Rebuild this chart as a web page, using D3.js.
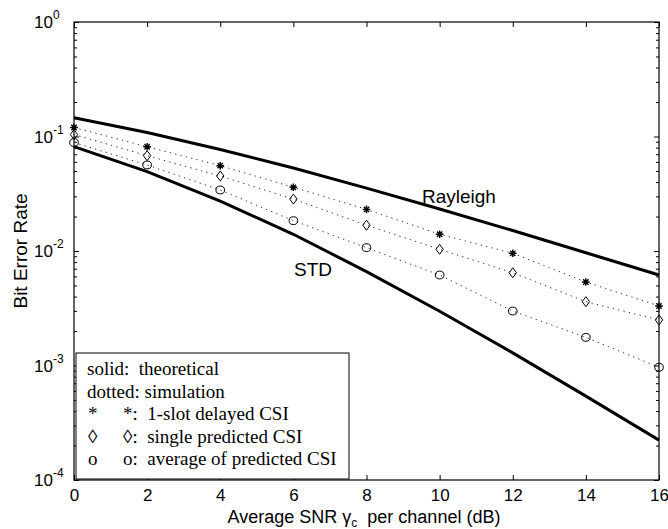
<!DOCTYPE html>
<html>
<head>
<meta charset="utf-8">
<script src="https://cdn.jsdelivr.net/npm/d3@7"></script>
<style>
  body { margin: 0; background: #fff; }
  svg { display: block; }
  .tick text { font-family: "Liberation Sans", Arial, sans-serif; font-size: 17px; fill: #000; }
</style>
</head>
<body>
<svg width="668" height="529"></svg>
<script>
const snr = [0, 2, 4, 6, 8, 10, 12, 14, 16];
// theoretical curves (solid)
const rayleigh = [0.146, 0.1085, 0.0771, 0.0530, 0.0354, 0.0233, 0.0151, 0.00966, 0.00617];
const stdCurve = [0.0816, 0.0494, 0.0273, 0.0140, 0.00661, 0.00298, 0.00129, 0.00054, 0.000223];
// simulation (dotted + markers)
const delayed = [0.1199, 0.0814, 0.0556, 0.0360, 0.0231, 0.0140, 0.00955, 0.00536, 0.00331];
const single  = [0.1041, 0.0680, 0.0452, 0.0284, 0.0168, 0.01035, 0.00646, 0.00361, 0.00250];
const average = [0.0886, 0.0564, 0.0341, 0.0184, 0.01069, 0.00617, 0.00299, 0.00176, 0.000965];

const xTicks = [0, 2, 4, 6, 8, 10, 12, 14, 16];
const yTicks = [1e-4, 1e-3, 1e-2, 1e-1, 1];
const yExp = ["-4", "-3", "-2", "-1", "0"];

const legendLines = [
  ["solid:  theoretical", ""],
  ["dotted: simulation", ""],
  ["*", "*:  1-slot delayed CSI"],
  ["\u25CA", "\u25CA:  single predicted CSI"],
  ["o", "o:  average of predicted CSI"]
];

const svg = d3.select("svg");
const L = 74, R = 659, T = 22, B = 480;

const x = d3.scaleLinear().domain([0, 16]).range([L, R]);
const y = d3.scaleLog().domain([1e-4, 1]).range([B, T]);

const minor = [];
yTicks.slice(0, -1).forEach(d => { for (let k = 2; k <= 9; k++) minor.push(k * d); });

// axes (ticks point inward, box on)
svg.append("g").attr("transform", `translate(0,${B})`)
  .call(d3.axisBottom(x).tickValues(xTicks).tickSizeInner(-5).tickSizeOuter(0).tickPadding(9).tickFormat(d3.format("d")));
svg.append("g").attr("transform", `translate(0,${T})`)
  .call(d3.axisTop(x).tickValues(xTicks).tickSizeInner(-5).tickSizeOuter(0).tickFormat(""));
svg.append("g").attr("transform", `translate(${L},0)`)
  .call(d3.axisLeft(y).tickValues(yTicks).tickSizeInner(-5).tickSizeOuter(0).tickFormat(""));
svg.append("g").attr("transform", `translate(${L},0)`)
  .call(d3.axisLeft(y).tickValues(minor).tickSizeInner(-3).tickSizeOuter(0).tickFormat(""));
svg.append("g").attr("transform", `translate(${R},0)`)
  .call(d3.axisRight(y).tickValues(yTicks).tickSizeInner(-5).tickSizeOuter(0).tickFormat(""));
svg.append("g").attr("transform", `translate(${R},0)`)
  .call(d3.axisRight(y).tickValues(minor).tickSizeInner(-3).tickSizeOuter(0).tickFormat(""));
svg.selectAll(".domain").remove();
svg.selectAll(".tick line").attr("stroke", "#000").attr("stroke-width", 1);

svg.append("rect").attr("x", L).attr("y", T).attr("width", R - L).attr("height", B - T)
  .attr("fill", "none").attr("stroke", "#000").attr("stroke-width", 1.2);

// y tick labels with superscripts
const yl = svg.append("g").attr("font-family", "Liberation Sans, Arial, sans-serif");
yTicks.forEach((v, i) => {
  const t = yl.append("text").attr("x", 34).attr("y", y(v) + 6).attr("font-size", 17);
  t.append("tspan").text("10");
  t.append("tspan").attr("dy", -9).attr("font-size", 12).text(yExp[i]);
});

const line = d3.line().x((d, i) => x(snr[i])).y(d => y(d));

// theoretical curves
[rayleigh, stdCurve].forEach(s => {
  svg.append("path").datum(s).attr("d", line)
    .attr("fill", "none").attr("stroke", "#000").attr("stroke-width", 3);
});

// simulation dotted lines
[delayed, single, average].forEach(s => {
  svg.append("path").datum(s).attr("d", line)
    .attr("fill", "none").attr("stroke", "#333").attr("stroke-width", 1)
    .attr("stroke-dasharray", "1.3,4.2");
});

// markers
const star = svg.append("g").attr("stroke", "#000").attr("stroke-width", 1.4);
delayed.forEach((v, i) => {
  const cx = x(snr[i]), cy = y(v), r = 3.8;
  star.append("path").attr("d",
    `M${cx - r},${cy}L${cx + r},${cy}M${cx},${cy - r}L${cx},${cy + r}` +
    `M${cx - r * 0.7},${cy - r * 0.7}L${cx + r * 0.7},${cy + r * 0.7}` +
    `M${cx - r * 0.7},${cy + r * 0.7}L${cx + r * 0.7},${cy - r * 0.7}`);
});
svg.append("g").selectAll("path").data(single).join("path")
  .attr("d", (d, i) => {
    const cx = x(snr[i]), cy = y(d);
    return `M${cx},${cy - 5}L${cx + 3.7},${cy}L${cx},${cy + 5}L${cx - 3.7},${cy}Z`;
  })
  .attr("fill", "none").attr("stroke", "#000").attr("stroke-width", 1);
svg.append("g").selectAll("ellipse").data(average).join("ellipse")
  .attr("cx", (d, i) => x(snr[i])).attr("cy", d => y(d))
  .attr("rx", 4.3).attr("ry", 3.9)
  .attr("fill", "none").attr("stroke", "#000").attr("stroke-width", 1);

// curve labels
svg.append("text").attr("x", 422).attr("y", 203).attr("font-family", "Liberation Sans, Arial, sans-serif")
  .attr("font-size", 19).text("Rayleigh");
svg.append("text").attr("x", 332).attr("y", 276).attr("text-anchor", "end")
  .attr("font-family", "Liberation Sans, Arial, sans-serif").attr("font-size", 19).text("STD");

// legend box
svg.append("rect").attr("x", 76).attr("y", 353).attr("width", 273).attr("height", 126)
  .attr("fill", "#fff").attr("stroke", "#000").attr("stroke-width", 1);
const lg = svg.append("g").attr("font-family", "Liberation Serif, Times New Roman, serif")
  .attr("font-size", 19).attr("fill", "#000");
legendLines.forEach((l, i) => {
  const by = 375 + i * 22.5;
  if (l[1] === "") {
    lg.append("text").attr("x", 87).attr("y", by).attr("xml:space", "preserve").text(l[0]);
  } else {
    lg.append("text").attr("x", 88).attr("y", by).text(l[0]);
    lg.append("text").attr("x", 123).attr("y", by).attr("xml:space", "preserve").text(l[1]);
  }
});

// axis titles
const xt = svg.append("text").attr("x", 364).attr("y", 523).attr("text-anchor", "middle")
  .attr("xml:space", "preserve")
  .attr("font-family", "Liberation Sans, Arial, sans-serif")
  .attr("font-size", 18).attr("fill", "#000");
xt.append("tspan").text("Average SNR \u03B3");
xt.append("tspan").attr("dy", 4).attr("font-size", 12).text("c");
xt.append("tspan").attr("dy", -4).text("  per channel (dB)");

svg.append("text").attr("transform", `translate(27,251) rotate(-90)`).attr("text-anchor", "middle")
  .attr("font-family", "Liberation Sans, Arial, sans-serif").attr("font-size", 19).text("Bit Error Rate");
</script>
</body>
</html>
